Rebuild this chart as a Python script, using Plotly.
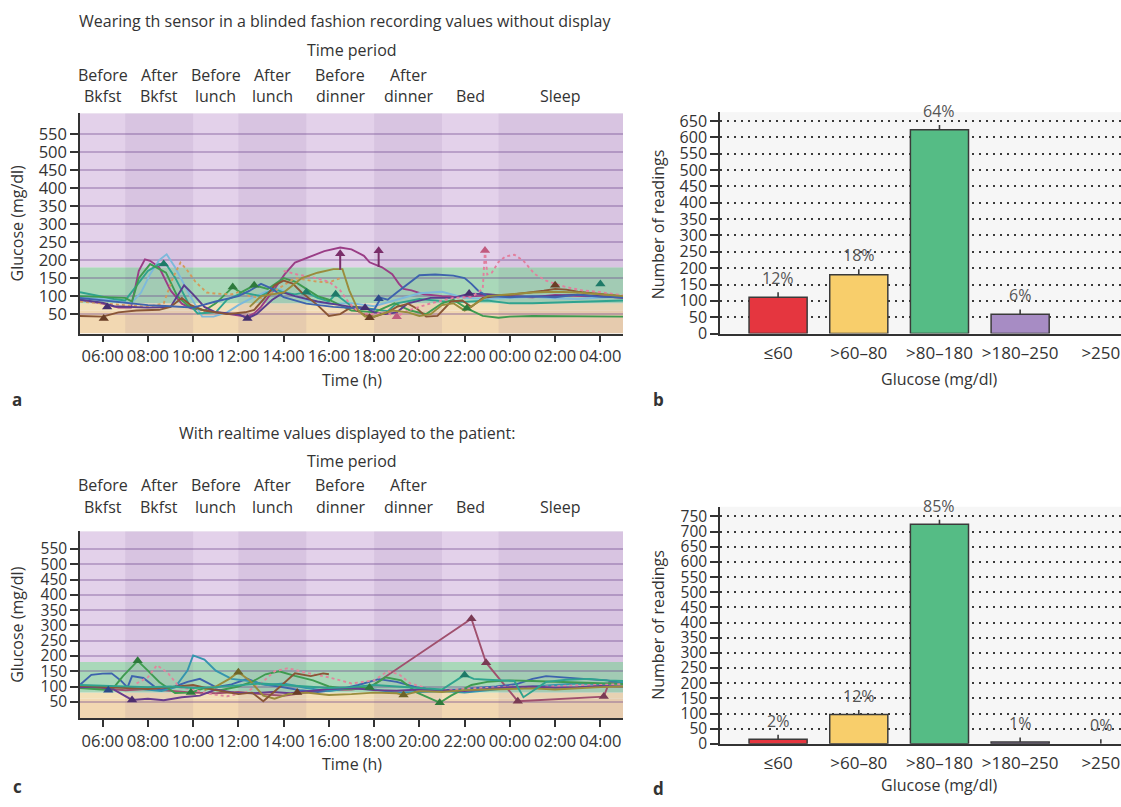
import plotly.graph_objects as go

# ---------------- axis ticks / categories ----------------
HOUR_TICKS = [6, 8, 10, 12, 14, 16, 18, 20, 22, 24, 26, 28]
HOUR_LABELS = ["06:00", "08:00", "10:00", "12:00", "14:00", "16:00",
               "18:00", "20:00", "22:00", "00:00", "02:00", "04:00"]
GLUCOSE_TICKS = [50, 100, 150, 200, 250, 300, 350, 400, 450, 500, 550]

PERIOD_START = [5, 7, 10, 12, 15, 18, 21, 23.5]
PERIOD_END = [7, 10, 12, 15, 18, 21, 23.5, 29]
PERIOD_LINE1 = ["Before", "After", "Before", "After", "Before", "After", "", ""]
PERIOD_LINE2 = ["Bkfst", "Bkfst", "lunch", "lunch", "dinner", "dinner", "Bed", "Sleep"]

GLUCOSE_BINS = ["≤60", ">60–80", ">80–180", ">180–250", ">250"]
BLINDED_COUNTS = [111, 180, 623, 59, 0]
BLINDED_SPREAD = [15, 17, 15, 15, 0]
BLINDED_PCT = ["12%", "18%", "64%", "6%", ""]
REALTIME_COUNTS = [15, 97, 724, 6, 0]
REALTIME_SPREAD = [15, 15, 15, 15, 15]
REALTIME_PCT = ["2%", "12%", "85%", "1%", "0%"]

# ---------------- blinded sensor days (hours, mg/dl) ----------------
BLIND_D1_H = [5.0, 6.0, 6.7, 7.25, 7.6, 7.87, 8.1, 8.5, 9.0, 9.5, 9.9, 10.5, 11.3, 12.0, 12.4, 12.7, 13.0, 13.55, 14.05, 14.5, 15.1, 15.8, 16.5, 17.0, 17.55, 17.8, 18.35, 18.8, 19.1, 19.3, 19.65, 20.2, 21.0, 22.0, 23.0, 24.0, 25.0, 26.0, 27.0, 28.0, 29.0]
BLIND_D1_G = [90, 79, 68, 68, 170, 202, 198, 180, 116, 79, 66, 60, 52, 46, 43, 52, 70, 116, 161, 193, 207, 225, 235, 230, 212, 194, 180, 161, 134, 120, 116, 105, 100, 98, 102, 100, 97, 103, 100, 98, 96]
BLIND_D2_H = [5.0, 6.0, 7.0, 7.25, 7.7, 8.1, 8.5, 8.83, 9.2, 9.9, 10.4, 10.9, 11.5, 12.0, 12.6, 13.2, 13.8, 14.5, 15.2, 16.0, 17.0, 18.0, 19.0, 20.0, 21.0, 22.0, 23.0, 24.0, 25.0, 26.0, 27.0, 28.0, 29.0]
BLIND_D2_G = [100, 92, 84, 79, 110, 161, 200, 216, 180, 97, 43, 43, 55, 75, 95, 112, 120, 100, 85, 78, 80, 72, 90, 108, 112, 95, 92, 95, 98, 94, 92, 96, 98]
BLIND_D3_H = [5.0, 5.5, 6.0, 6.5, 7.0, 7.5, 8.0, 8.5, 8.8, 9.2, 9.8, 10.2, 11.0, 11.5, 12.2, 13.0, 13.6, 14.0, 14.5, 15.0, 15.5, 16.0, 16.3, 17.0, 18.0, 18.6, 19.0, 20.0, 21.0, 22.0, 23.0, 24.0, 25.0, 26.0, 27.0, 28.0, 29.0]
BLIND_D3_G = [111, 105, 97, 92, 88, 130, 170, 189, 189, 152, 79, 52, 55, 90, 110, 100, 120, 110, 105, 111, 95, 85, 105, 72, 62, 58, 80, 92, 86, 84, 88, 80, 80, 82, 84, 86, 88]
BLIND_D4_H = [5.0, 6.0, 7.0, 7.3, 7.6, 8.1, 8.8, 9.3, 9.8, 10.5, 11.0, 11.75, 12.1, 12.7, 13.3, 14.0, 14.5, 15.0, 15.5, 16.0, 17.0, 18.0, 18.9, 19.6, 20.3, 21.0, 21.5, 22.1, 22.8, 23.5, 24.0, 25.0, 26.0, 27.0, 28.0, 29.0]
BLIND_D4_G = [100, 98, 95, 85, 150, 189, 165, 100, 72, 60, 80, 125, 110, 130, 120, 150, 140, 120, 100, 90, 60, 55, 80, 60, 50, 80, 90, 66, 45, 40, 43, 45, 45, 44, 43, 43]
BLIND_D5_H = [5.0, 6.0, 7.0, 8.0, 8.7, 9.1, 9.44, 9.7, 10.1, 10.6, 11.0, 11.7, 12.0, 12.5, 13.0, 13.5, 14.0, 14.5, 15.0, 15.5, 16.0, 16.5]
BLIND_D5_G = [85, 80, 75, 70, 80, 150, 193, 175, 140, 110, 107, 105, 111, 100, 95, 110, 130, 150, 145, 140, 138, 150]
BLIND_D6_H = [5.0, 6.0, 6.5, 7.0, 8.0, 9.0, 9.3, 9.6, 10.0, 10.5, 11.0, 12.0, 12.4, 12.8, 13.5, 14.0, 14.5, 15.5, 16.5, 17.0, 17.6, 18.0, 18.5, 19.0, 19.5, 20.5, 21.5, 22.2, 23.0, 24.0, 25.0, 26.0, 27.0, 28.0, 29.0]
BLIND_D6_G = [90, 82, 72, 70, 68, 70, 100, 130, 105, 70, 55, 50, 38, 50, 90, 110, 100, 85, 75, 70, 68, 55, 50, 55, 80, 95, 95, 107, 105, 100, 98, 100, 104, 100, 95]
BLIND_D7_H = [5.0, 6.0, 6.7, 7.5, 8.5, 9.0, 9.5, 9.9, 10.5, 11.5, 12.3, 12.7, 13.1, 13.6, 14.0, 14.4, 14.8, 15.5, 16.0, 16.5, 17.0, 17.5, 18.0, 18.6, 19.0, 19.5, 19.9, 20.3, 20.8, 21.4, 21.9, 22.3, 22.8, 23.5, 24.5, 25.5, 26.0, 26.5, 27.0, 28.0, 29.0]
BLIND_D7_G = [45, 43, 55, 60, 62, 70, 95, 75, 60, 50, 55, 62, 90, 130, 143, 135, 110, 75, 45, 50, 70, 50, 43, 55, 70, 79, 65, 43, 45, 85, 88, 70, 95, 100, 108, 115, 120, 118, 112, 105, 100]
BLIND_D8_H = [5.0, 6.0, 7.0, 8.0, 9.0, 10.0, 11.0, 12.0, 12.5, 13.0, 13.5, 14.0, 15.0, 16.2, 17.3, 18.0, 18.3, 18.6, 19.0, 19.5, 20.0, 20.7, 21.5, 22.0, 22.3, 22.6, 23.0, 24.0, 25.0, 26.0, 27.0, 28.0, 29.0]
BLIND_D8_G = [95, 88, 80, 75, 72, 68, 85, 100, 115, 134, 120, 97, 79, 70, 66, 62, 95, 90, 110, 134, 158, 160, 157, 150, 134, 115, 100, 97, 100, 97, 104, 98, 97]
BLIND_D9_H = [14.0, 14.6, 15.3, 16.0, 16.5, 16.9, 17.4, 18.0, 18.5, 19.0, 19.5, 20.5, 21.5, 22.3, 22.8, 22.9, 23.0, 23.2, 23.5, 23.8, 24.2, 24.6, 25.1, 25.6, 26.0, 26.5, 27.2, 28.0, 29.0]
BLIND_D9_G = [170, 160, 152, 140, 116, 80, 52, 50, 55, 43, 60, 80, 95, 97, 120, 227, 160, 165, 195, 210, 215, 198, 161, 143, 134, 125, 116, 111, 102]
BLIND_D10_H = [12.5, 13.0, 14.0, 14.8, 15.5, 16.2, 16.6, 16.9, 17.3, 17.6, 18.0, 18.8, 19.5, 20.0, 20.5, 21.0, 21.5, 22.0, 23.0, 24.0, 25.0, 26.0, 27.0, 28.0, 29.0]
BLIND_D10_G = [70, 100, 110, 150, 165, 175, 175, 116, 60, 43, 43, 60, 55, 45, 50, 75, 80, 60, 100, 105, 110, 112, 110, 105, 100]

# event markers on the blinded days: day index, hour, mg/dl, stem length
BLIND_MARK_DAY = [6, 5, 2, 3, 5, 3, 2, 2, 0, 5, 6, 0, 7, 8, 3, 5, 8, 6, 2]
BLIND_MARK_H = [6.05, 6.2, 8.7, 11.75, 12.4, 12.7, 15.0, 16.3, 16.5, 17.6, 17.8, 18.2, 18.2, 19.0, 22.1, 22.2, 22.9, 26.0, 28.0]
BLIND_MARK_G = [38, 70, 189, 125, 38, 130, 111, 105, 218, 68, 40, 226, 93, 43, 66, 107, 227, 130, 134]
BLIND_MARK_STEM = [0, 0, 0, 0, 0, 0, 0, 0, 45, 0, 0, 45, 0, 0, 0, 0, 0, 0, 0]

# ---------------- real-time display days (hours, mg/dl) ----------------
RT_D1_H = [5.0, 6.0, 7.0, 8.0, 9.0, 10.0, 11.0, 12.0, 13.0, 14.0, 15.0, 16.0, 17.0, 17.8, 22.3, 22.95, 24.35, 28.15, 28.4, 29.0]
RT_D1_G = [100, 95, 88, 92, 85, 80, 78, 82, 75, 70, 80, 88, 90, 97, 322, 178, 52, 67, 115, 110]
RT_D2_H = [5.0, 5.5, 6.0, 6.4, 6.8, 7.1, 7.3, 7.8, 8.5, 9.2, 9.75, 10.3, 11.0, 11.7, 12.4, 13.0, 13.8, 14.7, 15.5, 16.4, 17.3, 18.2, 19.0, 19.9, 20.8, 21.7, 22.5, 23.4, 24.3, 25.0, 25.6, 26.5, 27.4, 28.3, 29.0]
RT_D2_G = [106, 138, 142, 143, 120, 97, 134, 128, 88, 100, 115, 125, 98, 107, 125, 108, 100, 88, 82, 90, 105, 124, 115, 97, 88, 90, 95, 100, 108, 125, 134, 128, 124, 120, 112]
RT_D3_H = [5.0, 6.0, 7.0, 8.0, 8.6, 9.2, 9.75, 10.0, 10.5, 11.0, 11.7, 12.5, 13.3, 14.0, 15.0, 16.0, 17.0, 18.0, 19.0, 20.0, 21.0, 22.0, 23.0, 24.0, 25.0, 26.0, 27.0, 28.0, 29.0]
RT_D3_G = [95, 100, 97, 90, 85, 97, 152, 202, 188, 152, 125, 118, 105, 110, 95, 85, 95, 90, 80, 82, 85, 80, 88, 95, 100, 105, 110, 108, 112]
RT_D4_H = [5.0, 5.8, 6.4, 6.9, 7.55, 8.0, 8.5, 9.2, 9.9, 10.5, 11.2, 12.0, 12.6, 13.2, 13.8, 14.5, 15.3, 16.0, 16.8, 17.8, 18.5, 19.2, 19.9, 20.5, 20.9, 21.4, 21.8, 22.3, 23.0, 24.0, 25.0, 26.0, 27.0, 28.0, 29.0]
RT_D4_G = [95, 90, 88, 134, 184, 152, 115, 79, 80, 95, 88, 100, 115, 140, 150, 135, 120, 100, 92, 97, 130, 120, 80, 60, 47, 70, 85, 105, 115, 120, 118, 115, 112, 110, 108]
RT_D5_H = [7.5, 8.0, 8.4, 8.9, 9.4, 10.0, 10.8, 11.5, 12.3, 13.0, 13.6, 14.2, 15.0, 16.0, 17.0, 18.0, 18.6, 19.1, 19.6, 20.3, 21.0, 22.0, 23.0, 24.0, 25.0, 26.0, 27.0, 28.0, 29.0]
RT_D5_G = [110, 130, 170, 143, 97, 90, 75, 68, 80, 110, 150, 160, 145, 130, 110, 120, 150, 140, 110, 95, 88, 92, 95, 100, 98, 102, 104, 105, 108]
RT_D6_H = [5.0, 5.8, 6.5, 7.0, 7.3, 8.0, 8.7, 9.5, 10.3, 11.0, 11.8, 12.6, 13.5, 14.3, 15.2, 16.0, 17.0, 18.0, 19.0, 20.0, 21.0, 22.0, 23.0, 24.0, 25.0, 26.0, 27.0, 28.0, 29.0]
RT_D6_G = [97, 100, 90, 70, 56, 60, 55, 65, 70, 90, 80, 78, 82, 78, 85, 92, 95, 88, 86, 90, 88, 85, 92, 98, 100, 96, 98, 102, 100]
RT_D7_H = [10.5, 11.0, 11.6, 12.0, 12.5, 13.1, 13.6, 14.2, 15.0, 16.0, 17.0, 18.0, 19.0, 19.3, 20.0, 21.0, 22.0, 23.0, 24.0, 25.0, 26.0, 27.0, 28.0, 29.0]
RT_D7_G = [88, 100, 125, 147, 120, 70, 60, 75, 80, 72, 75, 80, 78, 72, 85, 82, 88, 90, 92, 94, 90, 95, 98, 100]
RT_D8_H = [5.0, 6.0, 7.0, 8.0, 9.0, 10.0, 11.0, 12.0, 12.6, 13.1, 13.8, 14.5, 15.2, 15.75, 16.0]
RT_D8_G = [102, 98, 95, 92, 98, 105, 88, 75, 80, 52, 97, 143, 134, 143, 140]
RT_D9_H = [5.0, 6.0, 7.0, 8.0, 9.0, 10.0, 11.0, 12.0, 13.0, 14.0, 15.0, 16.0, 17.0, 18.0, 19.0, 20.0, 21.0, 22.0, 22.4, 23.0, 23.6, 24.2, 24.6, 25.0, 25.6, 26.5, 27.5, 28.3, 29.0]
RT_D9_G = [105, 102, 100, 98, 100, 95, 98, 104, 110, 105, 100, 95, 98, 105, 100, 95, 90, 138, 125, 122, 120, 118, 65, 85, 115, 122, 125, 120, 118]

RT_MARK_DAY = [1, 5, 3, 3, 6, 7, 3, 6, 3, 8, 0, 0, 0, 0]
RT_MARK_H = [6.25, 7.3, 7.55, 9.9, 12.0, 14.6, 17.8, 19.3, 20.9, 22.0, 22.3, 22.95, 24.35, 28.15]
RT_MARK_G = [88, 56, 184, 80, 147, 80, 97, 72, 47, 138, 322, 178, 52, 67]

# ---------------- styling ----------------
FONT = "Open Sans"
INK = "#333333"
W, H = 1121, 807

BLIND_DAYS = [(BLIND_D1_H, BLIND_D1_G), (BLIND_D2_H, BLIND_D2_G), (BLIND_D3_H, BLIND_D3_G),
              (BLIND_D4_H, BLIND_D4_G), (BLIND_D5_H, BLIND_D5_G), (BLIND_D6_H, BLIND_D6_G),
              (BLIND_D7_H, BLIND_D7_G), (BLIND_D8_H, BLIND_D8_G), (BLIND_D9_H, BLIND_D9_G),
              (BLIND_D10_H, BLIND_D10_G)]
BLIND_COLORS = ["#9A3D86", "#7DB9DB", "#2FA38E", "#3F9B50", "#D39A5C",
                "#5A3D8E", "#8A5636", "#3E63AD", "#E27F9E", "#9A8C3C"]
BLIND_MARK_COLORS = ["#7A2E6A", "#4E8FB5", "#1E7A68", "#2E7A3C", "#A8703C",
                     "#45306E", "#6A3E26", "#2C4A88", "#C05A7E", "#6E6428"]
BLIND_DASH = ["solid", "solid", "solid", "solid", "dot", "solid", "solid", "solid", "dot", "solid"]

RT_DAYS = [(RT_D1_H, RT_D1_G), (RT_D2_H, RT_D2_G), (RT_D3_H, RT_D3_G), (RT_D4_H, RT_D4_G),
           (RT_D5_H, RT_D5_G), (RT_D6_H, RT_D6_G), (RT_D7_H, RT_D7_G), (RT_D8_H, RT_D8_G),
           (RT_D9_H, RT_D9_G)]
RT_COLORS = ["#A0506E", "#3E63AD", "#3595AE", "#3F9B50", "#E0869E",
             "#6A3D8E", "#9A8C3C", "#8A5636", "#2FA38E"]
RT_MARK_COLORS = ["#7A3A54", "#2C4A88", "#25708A", "#2E7A3C", "#C06A84",
                  "#4E2E6E", "#6E6428", "#6A3E26", "#1E7A68"]
RT_DASH = ["solid", "solid", "solid", "solid", "dot", "solid", "solid", "solid", "solid"]

BAR_COLORS = ["#E5363F", "#F8CE6B", "#55BC85", "#A78CC4", "#A78CC4"]


def px_x(p):
    return p / W


def px_y(p):
    return 1 - p / H


fig = go.Figure()
ann = []

# glucose traces
for (hrs, glu), col, dash in zip(BLIND_DAYS, BLIND_COLORS, BLIND_DASH):
    fig.add_trace(go.Scatter(x=hrs, y=glu, mode="lines", xaxis="x", yaxis="y",
                             line=dict(color=col, width=1.9, dash=dash),
                             hoverinfo="skip", showlegend=False))
fig.add_trace(go.Scatter(
    x=BLIND_MARK_H, y=BLIND_MARK_G, mode="markers", xaxis="x", yaxis="y",
    marker=dict(symbol="triangle-up", size=9,
                color=[BLIND_MARK_COLORS[d] for d in BLIND_MARK_DAY]),
    error_y=dict(type="data", symmetric=False, array=[0] * len(BLIND_MARK_STEM),
                 arrayminus=BLIND_MARK_STEM, width=0, thickness=2, color="#7A2E6A"),
    hoverinfo="skip", showlegend=False))

for (hrs, glu), col, dash in zip(RT_DAYS, RT_COLORS, RT_DASH):
    fig.add_trace(go.Scatter(x=hrs, y=glu, mode="lines", xaxis="x3", yaxis="y3",
                             line=dict(color=col, width=1.9, dash=dash),
                             hoverinfo="skip", showlegend=False))
fig.add_trace(go.Scatter(
    x=RT_MARK_H, y=RT_MARK_G, mode="markers", xaxis="x3", yaxis="y3",
    marker=dict(symbol="triangle-up", size=9,
                color=[RT_MARK_COLORS[d] for d in RT_MARK_DAY]),
    hoverinfo="skip", showlegend=False))

# histograms with percentage labels sitting on top of each spread tick
for counts, spread, pct, xa, ya in [(BLINDED_COUNTS, BLINDED_SPREAD, BLINDED_PCT, "x2", "y2"),
                                    (REALTIME_COUNTS, REALTIME_SPREAD, REALTIME_PCT, "x4", "y4")]:
    cats = list(range(len(GLUCOSE_BINS)))
    fig.add_trace(go.Bar(
        x=cats, y=counts, width=0.72, xaxis=xa, yaxis=ya,
        marker=dict(color=BAR_COLORS,
                    line=dict(color="#3a3a3a", width=[1.5 if c > 0 else 0 for c in counts])),
        error_y=dict(type="data", symmetric=False, array=spread, arrayminus=[0] * len(spread),
                     width=0, thickness=1.6, color="#3a3a3a"),
        hoverinfo="skip", showlegend=False))
    for c, cnt, s, p in zip(cats, counts, spread, pct):
        if p:
            ann.append(dict(x=c, y=cnt + s, xref=xa, yref=ya, text=p, showarrow=False,
                            xanchor="center", yanchor="bottom", yshift=1,
                            font=dict(family=FONT, size=16, color="#555555")))

# background zones for the time-course panels
shapes = []
for xr, yr in [("x", "y"), ("x3", "y3")]:
    for y0, y1, col in [(-4, 60, "#F2D8B2"), (60, 80, "#F3E0B8"),
                        (80, 180, "#A9D8B9"), (180, 608, "#E3D1EA")]:
        shapes.append(dict(type="rect", xref=xr, yref=yr, x0=5, x1=29, y0=y0, y1=y1,
                           fillcolor=col, line=dict(width=0), layer="below"))
    for i, (s, e) in enumerate(zip(PERIOD_START, PERIOD_END)):
        if i % 2 == 1:
            shapes.append(dict(type="rect", xref=xr, yref=yr, x0=s, x1=e, y0=-4, y1=608,
                               fillcolor="rgba(95,45,125,0.08)", line=dict(width=0),
                               layer="below"))


def note(x, y, text, size=16, xref="paper", yref="paper", angle=0, bold=False, color=INK):
    ann.append(dict(x=x, y=y, xref=xref, yref=yref, text=f"<b>{text}</b>" if bold else text,
                    showarrow=False, textangle=angle, xanchor="center", yanchor="middle",
                    font=dict(family=FONT, size=size, color=color)))


note(px_x(345), px_y(19), "Wearing th sensor in a blinded fashion recording values without display")
note(px_x(348), px_y(438), "With realtime values displayed to the patient:")
for xr, ytp, y1, y2 in [("x", 49, 74, 96), ("x3", 467, 491, 513)]:
    note(17, px_y(ytp), "Time period", xref=xr)
    for s, e, l1, l2 in zip(PERIOD_START, PERIOD_END, PERIOD_LINE1, PERIOD_LINE2):
        if l1:
            note((s + e) / 2, px_y(y1), l1, xref=xr)
        note((s + e) / 2, px_y(y2), l2, xref=xr)

note(17, px_y(384), "Time (h)", xref="x")
note(17, px_y(774), "Time (h)", xref="x3")
note(px_x(17), px_y(225), "Glucose (mg/dl)", angle=-90)
note(px_x(17), px_y(633), "Glucose (mg/dl)", angle=-90)
note(2, px_y(383), "Glucose (mg/dl)", xref="x2")
note(2, px_y(796), "Glucose (mg/dl)", xref="x4")
note(px_x(658), px_y(226), "Number of readings", angle=-90)
note(px_x(658), px_y(633), "Number of readings", angle=-90)
note(px_x(17), px_y(404), "a", size=17, bold=True)
note(px_x(658), px_y(404), "b", size=17, bold=True)
note(px_x(17), px_y(797), "c", size=17, bold=True)
note(px_x(658), px_y(799), "d", size=17, bold=True)

time_axis = dict(range=[5, 29], tickvals=HOUR_TICKS, ticktext=HOUR_LABELS, ticks="outside",
                 ticklen=7, tickwidth=1.5, tickcolor=INK, showline=True, linecolor=INK,
                 linewidth=1.5, showgrid=False, zeroline=False, tickangle=0,
                 tickfont=dict(size=16.5, family=FONT, color=INK))
glucose_axis = dict(range=[-4, 608], tickvals=GLUCOSE_TICKS, ticks="outside", ticklen=8,
                    tickwidth=1.5, tickcolor=INK, showline=True, linecolor=INK, linewidth=1.5,
                    showgrid=True, gridcolor="rgba(110,70,140,0.35)", gridwidth=1.5,
                    zeroline=False, tickfont=dict(size=16.5, family=FONT, color=INK))
bin_axis = dict(range=[-0.72, 4.25], tickvals=list(range(len(GLUCOSE_BINS))),
                ticktext=GLUCOSE_BINS, ticks="", showline=True, linecolor=INK, linewidth=1.5,
                showgrid=False, zeroline=False, tickangle=0, ticklabelstandoff=3,
                tickfont=dict(size=17, family=FONT, color=INK))
count_axis = dict(dtick=50, tick0=0, ticks="outside", ticklen=8, tickwidth=1.5, tickcolor=INK,
                  showline=True, linecolor=INK, linewidth=1.5, showgrid=True,
                  gridcolor="#3a3a3a", griddash="2px,5px", gridwidth=1.5, zeroline=False,
                  tickfont=dict(size=16, family=FONT, color=INK))

fig.update_layout(
    width=W, height=H, margin=dict(l=0, r=0, t=0, b=0),
    paper_bgcolor="white", plot_bgcolor="#F6F6F6",
    font=dict(family=FONT, color=INK),
    showlegend=False, hovermode=False, bargap=0.28,
    xaxis=dict(time_axis, domain=[px_x(80), px_x(623)], anchor="y"),
    yaxis=dict(glucose_axis, domain=[px_y(337), px_y(113)], anchor="x"),
    xaxis3=dict(time_axis, domain=[px_x(80), px_x(623)], anchor="y3"),
    yaxis3=dict(glucose_axis, domain=[px_y(728), px_y(538)], anchor="x3",
                tickfont=dict(size=15.5, family=FONT, color=INK)),
    xaxis2=dict(bin_axis, domain=[px_x(720), 1.0], anchor="y2"),
    yaxis2=dict(count_axis, range=[0, 677], domain=[px_y(337), px_y(112)], anchor="x2"),
    xaxis4=dict(bin_axis, domain=[px_x(720), 1.0], anchor="y4"),
    yaxis4=dict(count_axis, range=[0, 782], domain=[px_y(754), px_y(513)], anchor="x4",
                tickfont=dict(size=15.5, family=FONT, color=INK)),
    shapes=shapes, annotations=ann,
)

fig.write_html("out.html", config={"displayModeBar": False})
